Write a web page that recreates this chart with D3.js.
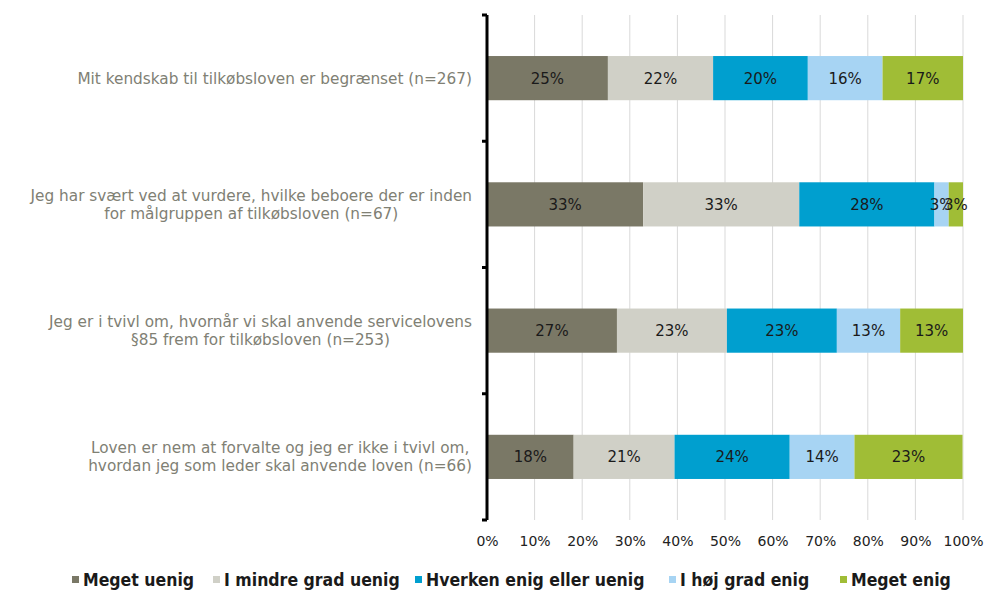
<!DOCTYPE html>
<html>
<head>
<meta charset="utf-8">
<script src="https://cdn.jsdelivr.net/npm/d3@7.8.5/dist/d3.min.js"></script>
<style>
  body { margin: 0; background: #fff; }
  svg { display: block; font-family: "DejaVu Sans", Verdana, sans-serif; }
</style>
</head>
<body>
<div id="chart"></div>
<script>
// Data
const categories = [
  ["Mit kendskab til tilkøbsloven er begrænset (n=267)"],
  ["Jeg har svært ved at vurdere, hvilke beboere der er inden", "for målgruppen af tilkøbsloven (n=67)"],
  ["Jeg er i tvivl om, hvornår vi skal anvende servicelovens", "§85 frem for tilkøbsloven (n=253)"],
  ["Loven er nem at forvalte og jeg er ikke i tvivl om,", "hvordan jeg som leder skal anvende loven (n=66)"]
];
const seriesNames = ["Meget uenig", "I mindre grad uenig", "Hverken enig eller uenig", "I høj grad enig", "Meget enig"];
const values = [
  [25.4, 22.1, 19.9, 15.7, 16.9],
  [32.8, 32.8, 28.4, 3.0, 3.0],
  [27.3, 23.1, 23.1, 13.3, 13.2],
  [18.2, 21.2, 24.2, 13.6, 22.7]
];
const colors = ["#7a7866", "#d0d0c7", "#009fcf", "#a7d4f3", "#a0bd36"];
const xTicks = [0, 10, 20, 30, 40, 50, 60, 70, 80, 90, 100];

const width = 989, height = 592;
const margin = { top: 15, right: 26, bottom: 72, left: 487 };

const svg = d3.select("#chart").append("svg")
  .attr("width", width).attr("height", height);

const x = d3.scaleLinear().domain([0, 100]).range([margin.left, width - margin.right]);
const y = d3.scaleBand().domain(d3.range(categories.length))
  .range([margin.top, height - margin.bottom]).paddingInner(0.65).paddingOuter(0.325);
const yBand = d3.scaleBand().domain(d3.range(categories.length))
  .range([margin.top, height - margin.bottom]);

// gridlines
svg.append("g").selectAll("line").data(xTicks.slice(1)).join("line")
  .attr("x1", d => x(d)).attr("x2", d => x(d))
  .attr("y1", margin.top).attr("y2", height - margin.bottom)
  .attr("stroke", "#d9d9d9").attr("stroke-width", 1);

// stacked bars
const stackData = values.map((row, i) => {
  const o = { idx: i };
  row.forEach((v, j) => o[j] = v);
  return o;
});
const stack = d3.stack().keys(d3.range(seriesNames.length))(stackData);

const layers = svg.append("g").selectAll("g").data(stack).join("g")
  .attr("fill", (d, i) => colors[i]);

layers.selectAll("rect").data(d => d).join("rect")
  .attr("x", d => x(d[0]))
  .attr("y", (d, i) => y(i))
  .attr("width", d => x(d[1]) - x(d[0]))
  .attr("height", y.bandwidth());

layers.selectAll("text").data(d => d).join("text")
  .attr("x", d => (x(d[0]) + x(d[1])) / 2)
  .attr("y", (d, i) => y(i) + y.bandwidth() / 2)
  .attr("dy", "0.36em")
  .attr("text-anchor", "middle")
  .attr("font-size", 15)
  .attr("fill", "#1a1a1a")
  .text(d => Math.round(d[1] - d[0]) + "%");

// category axis
const axisG = svg.append("g");
axisG.append("line")
  .attr("x1", margin.left).attr("x2", margin.left)
  .attr("y1", margin.top).attr("y2", height - margin.bottom)
  .attr("stroke", "#000").attr("stroke-width", 3);
const boundaries = d3.range(categories.length + 1).map(i =>
  i < categories.length ? yBand(i) : yBand(i - 1) + yBand.bandwidth());
axisG.selectAll("line.tick").data(boundaries).join("line")
  .attr("class", "tick")
  .attr("x1", margin.left - 5).attr("x2", margin.left)
  .attr("y1", d => d).attr("y2", d => d)
  .attr("stroke", "#000").attr("stroke-width", 3);

// category labels
const labelRight = 472;
const labels = svg.append("g").selectAll("g").data(categories).join("g");
labels.each(function (lines, i) {
  const g = d3.select(this);
  const cy = yBand(i) + yBand.bandwidth() / 2;
  const lh = 18;
  const t = g.selectAll("text").data(lines).join("text")
    .attr("y", (d, k) => cy + (k - (lines.length - 1) / 2) * lh)
    .attr("dy", "0.36em")
    .attr("font-size", 15.3)
    .attr("fill", "#808074")
    .attr("text-anchor", "middle")
    .text(d => d);
  const maxW = d3.max(t.nodes(), n => n.getComputedTextLength());
  t.attr("x", labelRight - maxW / 2);
});

// x axis labels
const xAxis = d3.axisBottom(x).tickValues(xTicks).tickFormat(d => d + "%").tickSize(0).tickPadding(0);
const xg = svg.append("g").attr("transform", `translate(0,${height - margin.bottom + 16})`).call(xAxis);
xg.select(".domain").remove();
xg.selectAll("text").attr("font-size", 14).attr("fill", "#222")
  .attr("font-family", "DejaVu Sans, Verdana, sans-serif");

// legend
const legendX = [72, 213, 415, 669, 840];
const legend = svg.append("g").selectAll("g").data(seriesNames).join("g")
  .attr("transform", (d, i) => `translate(${legendX[i]},580)`);
legend.append("rect")
  .attr("x", 0).attr("y", -4).attr("width", 7).attr("height", 7)
  .attr("fill", (d, i) => colors[i]);
legend.append("text")
  .attr("x", 11).attr("dy", "0.36em")
  .attr("font-size", 17.5).attr("font-weight", "bold")
  .attr("font-family", "'DejaVu Sans Condensed', 'Liberation Sans Narrow', sans-serif")
  .attr("fill", "#1a1a1a")
  .text(d => d);
</script>
</body>
</html>
